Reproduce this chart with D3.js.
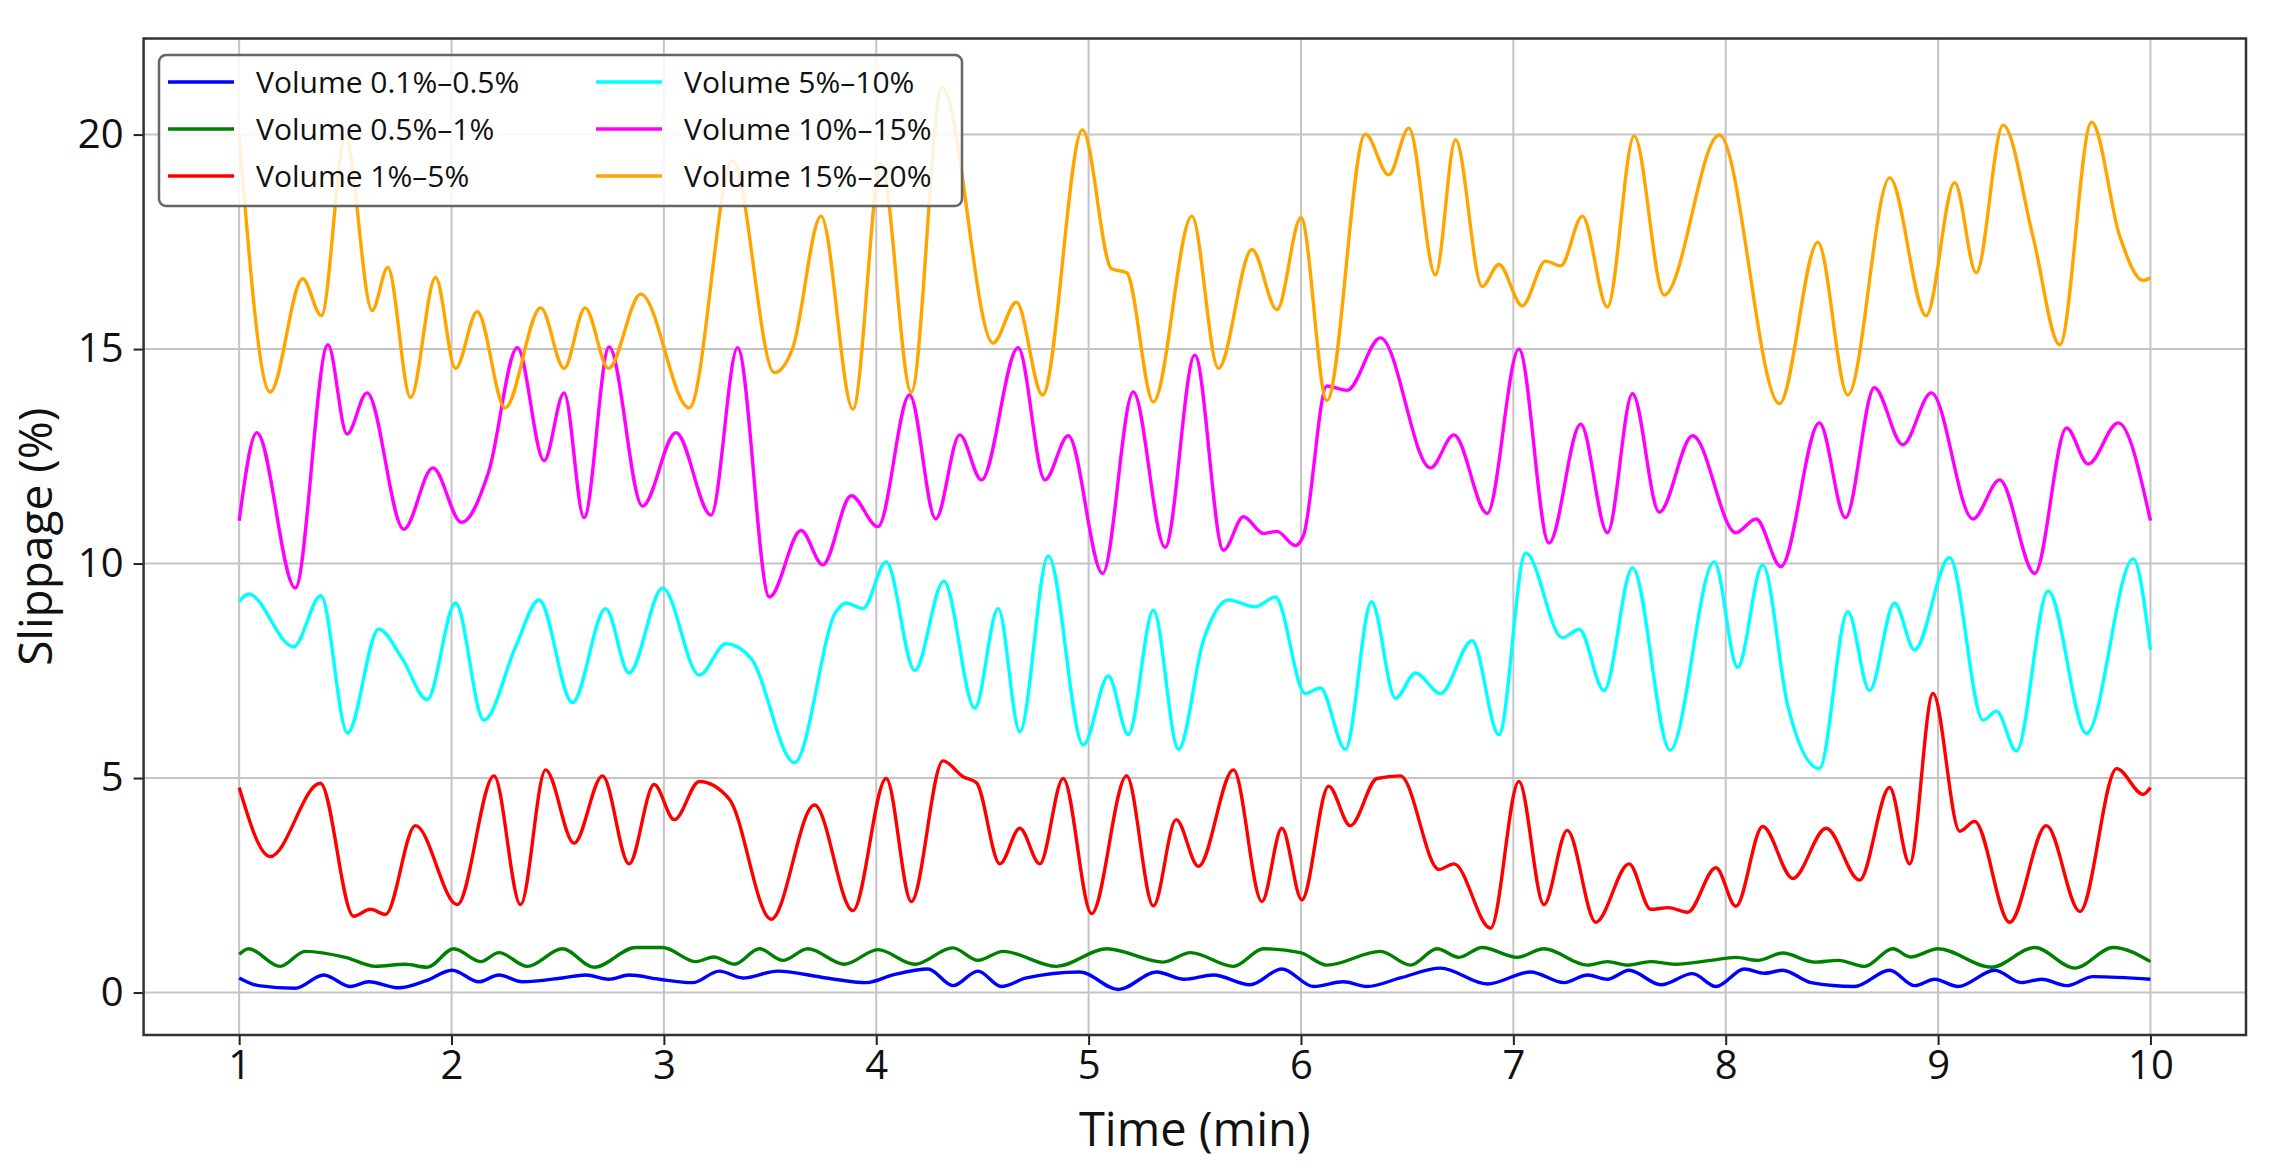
<!DOCTYPE html>
<html>
<head>
<meta charset="utf-8">
<script src="https://cdn.jsdelivr.net/npm/d3@7"></script>
<style>
body { margin: 0; background: #fff; }
svg text { font-family: "Open Sans", "Noto Sans", sans-serif; fill: #111; }
</style>
</head>
<body>
<div id="viz"></div>
<script>
var width = 2270
var height = 1175
var margin = {left: 143.6, right: 24, top: 38.5, bottom: 140}

// data: [time (min), slippage (%)]
var vol01_05 = [[1.0,0.34],[1.091,0.16],[1.264,0.1],[1.398,0.41],[1.524,0.14],[1.61,0.25],[1.752,0.11],[1.877,0.27],[2.003,0.52],[2.129,0.25],[2.223,0.41],[2.333,0.25],[2.522,0.34],[2.632,0.41],[2.742,0.31],[2.836,0.41],[2.978,0.31],[3.135,0.23],[3.261,0.5],[3.371,0.34],[3.536,0.5],[3.764,0.34],[3.953,0.23],[4.079,0.41],[4.244,0.55],[4.361,0.16],[4.479,0.5],[4.589,0.14],[4.707,0.34],[4.959,0.48],[5.14,0.07],[5.32,0.48],[5.45,0.31],[5.588,0.41],[5.76,0.18],[5.91,0.55],[6.06,0.14],[6.2,0.25],[6.31,0.14],[6.468,0.34],[6.657,0.57],[6.877,0.2],[7.081,0.48],[7.239,0.23],[7.349,0.41],[7.443,0.31],[7.545,0.52],[7.695,0.18],[7.844,0.44],[7.954,0.14],[8.088,0.55],[8.182,0.45],[8.268,0.52],[8.402,0.23],[8.606,0.14],[8.772,0.52],[8.89,0.16],[8.984,0.31],[9.094,0.14],[9.267,0.52],[9.392,0.23],[9.487,0.31],[9.605,0.16],[9.73,0.37],[10.0,0.31]]
var vol05_1 = [[1.0,0.89],[1.044,1.02],[1.193,0.61],[1.311,0.96],[1.5,0.82],[1.642,0.61],[1.783,0.66],[1.885,0.59],[2.011,1.02],[2.137,0.72],[2.223,0.93],[2.357,0.61],[2.522,1.02],[2.671,0.59],[2.868,1.05],[2.994,1.05],[3.151,0.72],[3.235,0.83],[3.332,0.66],[3.45,1.02],[3.56,0.75],[3.678,1.02],[3.85,0.66],[4.008,1.0],[4.181,0.66],[4.36,1.04],[4.479,0.75],[4.597,0.96],[4.849,0.61],[5.085,1.02],[5.352,0.71],[5.48,0.93],[5.682,0.61],[5.824,1.02],[5.997,0.93],[6.122,0.64],[6.374,0.96],[6.515,0.64],[6.641,1.02],[6.743,0.82],[6.853,1.05],[7.018,0.82],[7.144,1.02],[7.349,0.64],[7.443,0.72],[7.537,0.64],[7.647,0.72],[7.76,0.66],[7.93,0.75],[8.048,0.82],[8.15,0.75],[8.268,0.92],[8.418,0.71],[8.53,0.75],[8.654,0.61],[8.787,1.02],[8.87,0.83],[9.0,1.02],[9.251,0.59],[9.455,1.05],[9.644,0.57],[9.825,1.05],[10.0,0.72]]
var vol1_5 = [[1.0,4.78],[1.146,3.17],[1.382,4.88],[1.539,1.78],[1.618,1.94],[1.689,1.82],[1.83,3.89],[2.027,2.05],[2.2,5.05],[2.325,2.05],[2.443,5.19],[2.577,3.48],[2.711,5.05],[2.836,3.0],[2.954,4.85],[3.049,4.03],[3.167,4.92],[3.308,4.51],[3.505,1.71],[3.709,4.37],[3.89,1.91],[4.047,4.99],[4.165,2.12],[4.314,5.4],[4.409,5.03],[4.472,4.89],[4.582,3.0],[4.676,3.83],[4.77,3.0],[4.88,4.99],[5.014,1.84],[5.179,5.05],[5.305,2.02],[5.412,4.03],[5.517,2.94],[5.682,5.19],[5.816,2.12],[5.91,3.83],[6.004,2.16],[6.13,4.81],[6.232,3.89],[6.358,4.99],[6.468,5.05],[6.65,2.87],[6.72,3.0],[6.893,1.5],[7.026,4.92],[7.144,2.05],[7.254,3.78],[7.388,1.64],[7.545,3.0],[7.647,1.94],[7.73,1.98],[7.82,1.87],[7.954,2.91],[8.048,2.01],[8.174,3.87],[8.316,2.66],[8.473,3.83],[8.63,2.62],[8.772,4.78],[8.866,3.0],[8.976,6.97],[9.102,3.76],[9.172,3.99],[9.337,1.64],[9.51,3.89],[9.668,1.89],[9.841,5.22],[9.966,4.62],[10.0,4.78]]
var vol5_10 = [[1.0,9.11],[1.044,9.29],[1.256,8.06],[1.385,9.25],[1.51,6.05],[1.657,8.47],[1.767,7.79],[1.885,6.83],[2.019,9.08],[2.152,6.35],[2.302,8.06],[2.412,9.15],[2.569,6.76],[2.726,8.95],[2.836,7.45],[2.994,9.43],[3.167,7.4],[3.292,8.13],[3.41,7.79],[3.615,5.36],[3.811,8.88],[3.858,9.08],[3.937,8.95],[4.047,10.04],[4.181,7.51],[4.318,9.59],[4.464,6.63],[4.574,8.95],[4.676,6.08],[4.81,10.18],[4.975,5.77],[5.093,7.38],[5.187,6.01],[5.305,8.91],[5.423,5.67],[5.54,8.2],[5.659,9.15],[5.784,8.99],[5.879,9.22],[6.02,6.97],[6.091,7.1],[6.209,5.67],[6.332,9.11],[6.445,6.86],[6.539,7.45],[6.657,6.97],[6.806,8.2],[6.932,6.01],[7.058,10.25],[7.231,8.27],[7.31,8.47],[7.427,7.04],[7.561,9.9],[7.738,5.65],[7.946,10.04],[8.056,7.58],[8.174,9.97],[8.292,6.69],[8.441,5.22],[8.575,8.88],[8.677,7.04],[8.795,9.08],[8.889,7.99],[9.054,10.14],[9.212,6.35],[9.275,6.56],[9.369,5.63],[9.518,9.36],[9.699,6.04],[9.919,10.11],[10.0,7.99]]
var vol10_15 = [[1.0,11.0],[1.083,13.05],[1.264,9.43],[1.418,15.1],[1.508,13.02],[1.602,13.98],[1.775,10.8],[1.912,12.23],[2.047,10.96],[2.176,12.16],[2.31,15.03],[2.436,12.4],[2.53,13.98],[2.624,11.07],[2.742,15.05],[2.899,11.34],[3.057,13.05],[3.222,11.13],[3.347,15.03],[3.497,9.22],[3.646,10.77],[3.748,9.97],[3.882,11.58],[4.008,10.86],[4.157,13.93],[4.28,11.04],[4.393,13.0],[4.495,11.95],[4.668,15.03],[4.794,11.95],[4.904,12.98],[5.066,9.77],[5.21,14.0],[5.36,10.38],[5.5,14.86],[5.635,10.31],[5.729,11.09],[5.824,10.7],[5.887,10.75],[5.973,10.42],[6.012,10.66],[6.122,14.14],[6.217,14.04],[6.374,15.26],[6.61,12.23],[6.72,13.0],[6.877,11.17],[7.026,15.0],[7.168,10.48],[7.317,13.25],[7.443,10.72],[7.561,13.96],[7.687,11.2],[7.844,12.98],[8.048,10.72],[8.143,11.04],[8.26,9.93],[8.441,13.28],[8.564,11.07],[8.7,14.1],[8.834,12.77],[8.968,13.98],[9.164,11.04],[9.29,11.95],[9.455,9.77],[9.605,13.16],[9.707,12.32],[9.848,13.28],[10.0,11.0]]
var vol15_20 = [[1.0,20.0],[1.146,14.0],[1.299,16.64],[1.387,15.78],[1.5,19.95],[1.626,15.9],[1.7,16.9],[1.807,13.87],[1.925,16.67],[2.019,14.55],[2.121,15.87],[2.252,13.63],[2.42,15.96],[2.53,14.55],[2.629,15.96],[2.739,14.55],[2.891,16.28],[3.119,13.63],[3.324,19.4],[3.52,14.45],[3.607,15.03],[3.74,18.1],[3.89,13.6],[4.023,19.3],[4.165,14.0],[4.31,21.1],[4.55,15.14],[4.66,16.09],[4.783,13.93],[4.971,20.11],[5.108,16.87],[5.179,16.78],[5.305,13.77],[5.486,18.1],[5.611,14.55],[5.769,17.32],[5.887,15.92],[6.0,18.06],[6.122,13.8],[6.303,20.01],[6.413,19.06],[6.508,20.15],[6.633,16.73],[6.728,19.88],[6.853,16.46],[6.932,16.97],[7.042,16.01],[7.152,17.05],[7.223,16.94],[7.325,18.1],[7.443,15.98],[7.569,19.97],[7.71,16.26],[7.97,19.99],[8.253,13.73],[8.434,17.49],[8.575,13.93],[8.772,18.99],[8.944,15.78],[9.078,18.88],[9.18,16.78],[9.306,20.22],[9.447,17.62],[9.573,15.1],[9.723,20.29],[9.856,17.62],[9.966,16.6],[10.0,16.67]]

var seriesNames = ["Volume 0.1%\u20130.5%", "Volume 0.5%\u20131%", "Volume 1%\u20135%",
    "Volume 5%\u201310%", "Volume 10%\u201315%", "Volume 15%\u201320%"]
var seriesData = [vol01_05, vol05_1, vol1_5, vol5_10, vol10_15, vol15_20]
var colors = ["#0000ff", "#008000", "#ff0000", "#00ffff", "#ff00ff", "#ffa500"]

var xTicks = [1, 2, 3, 4, 5, 6, 7, 8, 9, 10]
var yTicks = [0, 5, 10, 15, 20]
var xLabel = "Time (min)"
var yLabel = "Slippage (%)"

var svg = d3
    .select("#viz")
    .append("svg")
    .attr("width", width)
    .attr("height", height);

var x = d3.scaleLinear()
    .domain([0.55, 10.45])
    .range([margin.left, width - margin.right]);
var y = d3.scaleLinear()
    .domain([-0.99, 22.24])
    .range([height - margin.bottom, margin.top]);

// grid
var grid = svg.append("g").attr("class", "grid");
grid.selectAll("line.gx")
    .data(xTicks)
    .enter()
    .append("line")
    .attr("x1", d => x(d)).attr("x2", d => x(d))
    .attr("y1", y.range()[1]).attr("y2", y.range()[0])
    .attr("stroke", "#c4c4c4")
    .attr("stroke-width", 2);
grid.selectAll("line.gy")
    .data(yTicks)
    .enter()
    .append("line")
    .attr("x1", x.range()[0]).attr("x2", x.range()[1])
    .attr("y1", d => y(d)).attr("y2", d => y(d))
    .attr("stroke", "#c4c4c4")
    .attr("stroke-width", 2);

// lines
var line = d3.line()
    .x(d => x(d[0]))
    .y(d => y(d[1]))
    .curve(d3.curveMonotoneX);

seriesData.forEach(function (data, i) {
    svg.append("path")
        .datum(data)
        .attr("fill", "none")
        .attr("stroke", colors[i])
        .attr("stroke-width", 3.4)
        .attr("stroke-linejoin", "round")
        .attr("d", line);
});

// axes
var xAxis = svg.append("g")
    .attr("transform", "translate(0," + y.range()[0] + ")")
    .call(d3.axisBottom(x).tickValues(xTicks).tickSize(10).tickPadding(6));
var yAxis = svg.append("g")
    .attr("transform", "translate(" + x.range()[0] + ",0)")
    .call(d3.axisLeft(y).tickValues(yTicks).tickSize(10).tickPadding(10));
[xAxis, yAxis].forEach(function (ax) {
    ax.select(".domain").remove();
    ax.selectAll(".tick line").attr("stroke", "#222").attr("stroke-width", 2);
    ax.selectAll(".tick text")
        .attr("font-size", 40)
        .attr("font-family", "\"Open Sans\", sans-serif")
        .attr("fill", "#111");
});

// frame
svg.append("rect")
    .attr("x", x.range()[0])
    .attr("y", y.range()[1])
    .attr("width", x.range()[1] - x.range()[0])
    .attr("height", y.range()[0] - y.range()[1])
    .attr("fill", "none")
    .attr("stroke", "#333")
    .attr("stroke-width", 2.5);

// axis labels
svg.append("text")
    .attr("x", (x.range()[0] + x.range()[1]) / 2)
    .attr("y", 1146)
    .attr("text-anchor", "middle")
    .attr("font-size", 47)
    .text(xLabel);
svg.append("text")
    .attr("transform", "translate(52," + (y.range()[0] + y.range()[1]) / 2 + ") rotate(-90)")
    .attr("text-anchor", "middle")
    .attr("font-size", 46)
    .text(yLabel);

// legend
var legend = svg.append("g").attr("class", "legend");
legend.append("rect")
    .attr("x", 159)
    .attr("y", 55)
    .attr("width", 803)
    .attr("height", 151)
    .attr("rx", 7)
    .attr("fill", "white")
    .attr("fill-opacity", 0.85)
    .attr("stroke", "#666")
    .attr("stroke-width", 2.5);
seriesNames.forEach(function (name, i) {
    var col = Math.floor(i / 3)
    var row = i % 3
    var lx = col == 0 ? 168 : 596
    var ly = 82 + row * 47
    legend.append("line")
        .attr("x1", lx).attr("x2", lx + 66)
        .attr("y1", ly).attr("y2", ly)
        .attr("stroke", colors[i])
        .attr("stroke-width", 3.4);
    legend.append("text")
        .attr("x", lx + 88)
        .attr("y", ly)
        .attr("dy", "0.35em")
        .attr("font-size", 30)
        .text(name);
});
</script>
</body>
</html>
